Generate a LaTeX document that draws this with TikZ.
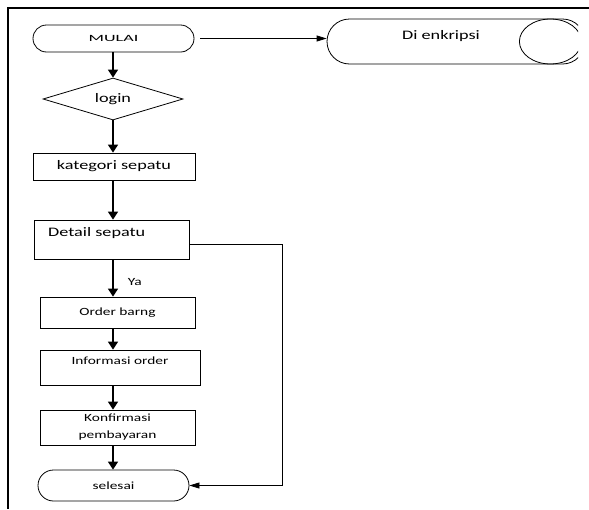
\documentclass[tikz,border=0pt]{standalone}
\usepackage{fontspec}
\setmainfont{Carlito}
\newfontfamily\hurufLebar{Carlito}[FakeStretch=1.4]
\newfontfamily\hurufSangatLebar{Carlito}[FakeStretch=1.9]
\usetikzlibrary{arrows.meta, positioning, shapes.geometric, shapes.misc}
\colorlet{warnaGaris}{black}
\colorlet{warnaTeks}{black}
\tikzset{
  teksBesar/.style={font=\hurufLebar\fontsize{13}{15}\selectfont, text=warnaTeks},
  teksKecil/.style={font=\hurufLebar\fontsize{11}{17}\selectfont, text=warnaTeks},
  teksKapital/.style={font=\hurufSangatLebar\fontsize{9.5}{12}\selectfont, text=warnaTeks},
  kotakDasar/.style={draw=warnaGaris, line width=0.8pt, inner sep=0pt, align=center},
  kotakProses/.style={kotakDasar, rectangle},
  kotakTerminal/.style={kotakDasar, rounded rectangle},
  kotakKeputusan/.style={kotakDasar, diamond, aspect=3.3},
  panah/.style={-{Triangle[length=8pt, width=10pt]}, line width=1.6pt, warnaGaris},
  panahTipis/.style={-{Triangle[length=10pt, width=6pt]}, line width=0.8pt, warnaGaris},
  labelPanah/.style={teksKecil, inner sep=1pt},
}
\begin{document}
\begin{tikzpicture}[x=1pt, y=-1pt]
  \useasboundingbox (0,0) rectangle (589,509);
  % bingkai
  \draw[line width=2pt, warnaGaris] (589,8) -- (8,8) -- (8,509);

  \node[kotakTerminal, teksKapital, minimum width=161pt, minimum height=27pt] (mulai) at (113.5,38.5) {MULAI};
  \begin{scope}
    \clip (0,0) rectangle (578,509);
    \node[kotakTerminal, minimum width=258pt, minimum height=45pt,
      label={[teksBesar, xshift=-15pt, yshift=5pt]center:Di enkripsi}] (enkripsi) at (456,41.5) {};
    \draw[line width=0.8pt, warnaGaris] ([xshift=-35pt]enkripsi.east) ellipse (31 and 22.5);
  \end{scope}
  \node[kotakKeputusan, teksBesar, minimum width=140pt, minimum height=42pt] (login) at (113,99) {login};
  \node[kotakProses, teksBesar, minimum width=162pt, minimum height=27pt] (kategori) at (114,166.5) {kategori sepatu};
  \node[kotakProses, minimum width=155pt, minimum height=39pt,
    label={[teksBesar, anchor=west, xshift=11pt, yshift=6.5pt]west:Detail sepatu}] (detail) at (111.5,239.5) {};
  \node[kotakProses, teksKecil, minimum width=155pt, minimum height=31pt] (order) at (117.5,312.5) {Order barng};
  \node[kotakProses, minimum width=160pt, minimum height=35pt,
    label={[teksKecil, yshift=6.5pt]center:Informasi order}] (informasi) at (120,367.5) {};
  \node[kotakProses, teksKecil, minimum width=155pt, minimum height=35pt] (konfirmasi) at (117.5,427.5) {Konfirmasi\\pembayaran};
  \node[kotakTerminal, teksKecil, minimum width=151pt, minimum height=31pt] (selesai) at (113.5,485.5) {selesai};

  \draw[panahTipis] ([xshift=6pt]mulai.east) -- (mulai.east -| enkripsi.west);
  \draw[panah] (mulai.south -| login.south) -- (login.north);
  \draw[panah] (login.south) -- (kategori.north -| login.south);
  \draw[panah] (kategori.south -| login.south) -- (detail.north -| login.south);
  \draw[panah] (detail.south -| login.south) -- node[labelPanah, pos=0.62, right=13pt] {Ya} (order.north -| login.south);
  \draw[panah] (order.south -| login.south) -- (informasi.north -| login.south);
  \draw[panah] (informasi.south -| login.south) -- (konfirmasi.north -| login.south);
  \draw[panah] (konfirmasi.south -| login.south) -- (selesai.north -| login.south);
  \draw[panahTipis] ([yshift=-4.5pt]detail.east) -- ++(93,0) |- (selesai.east);
\end{tikzpicture}
\end{document}
